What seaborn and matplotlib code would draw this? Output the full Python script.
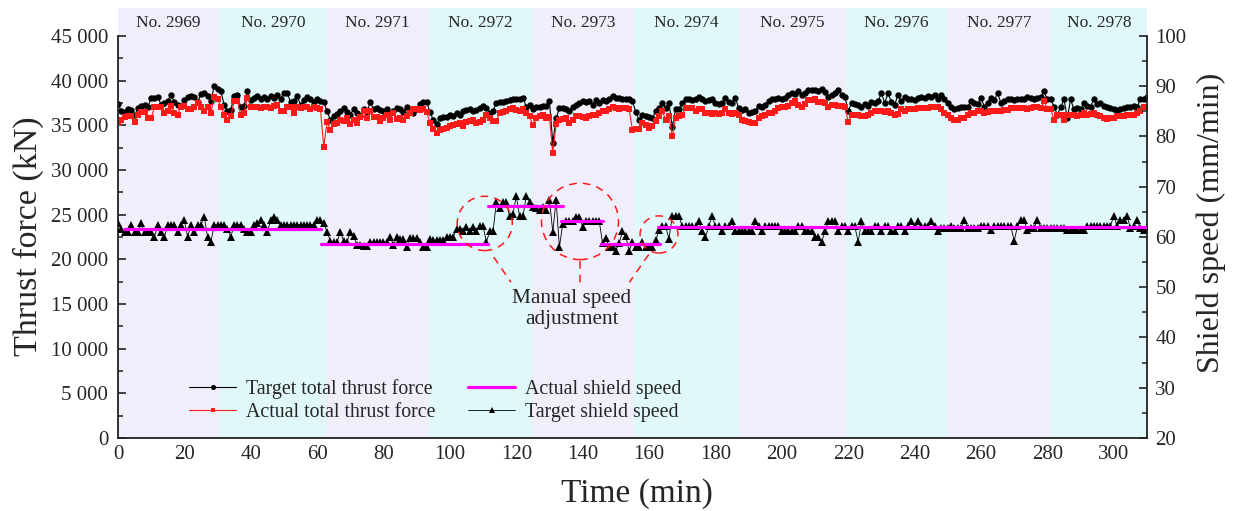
import pandas as pd
import seaborn as sns
import matplotlib.pyplot as plt
import matplotlib.ticker as mtick
from matplotlib.patches import Ellipse

# ring numbers and where each ring starts / ends (min)
RING_NAMES = ["No. 2969", "No. 2970", "No. 2971", "No. 2972", "No. 2973",
              "No. 2974", "No. 2975", "No. 2976", "No. 2977", "No. 2978"]
RING_EDGES = [0, 30.6, 62.7, 93.7, 124.8, 155.6, 187.0, 219.3, 249.8, 281.0, 310.0]

TIME_MIN = list(range(0, 311))

# thrust force, in 1000 kN
TARGET_THRUST = [
    37.4, 36.6, 36.5, 36.8, 36.7, 36.1, 36.9, 37.2, 37.3, 37.0,
    38.1, 38.1, 38.2, 37.3, 37.5, 37.7, 38.4, 37.6, 37.3, 37.2,
    37.8, 38.2, 38.3, 38.2, 37.6, 38.5, 38.6, 38.3, 37.7, 39.4,
    39.1, 38.8, 37.3, 36.6, 36.7, 38.3, 38.4, 37.0, 37.2, 38.8,
    37.8, 38.1, 38.3, 38.0, 38.2, 37.9, 38.3, 38.1, 38.4, 38.0,
    38.6, 38.6, 37.6, 37.7, 38.3, 37.3, 37.8, 38.2, 37.9, 37.6,
    38.0, 37.7, 37.6, 36.6, 35.6, 36.0, 36.3, 36.6, 36.9, 36.5,
    36.2, 36.8, 36.4, 36.0, 36.8, 36.5, 37.6, 36.8, 36.9, 36.7,
    36.6, 36.8, 36.4, 36.6, 36.9, 36.8, 36.5, 37.1, 36.6, 36.4,
    36.8, 37.4, 37.6, 37.6, 36.5, 35.6, 35.2, 35.8, 35.9, 35.9,
    36.1, 36.0, 36.4, 36.2, 36.6, 36.7, 36.8, 36.6, 36.7, 36.9,
    37.2, 36.9, 36.4, 36.6, 37.5, 37.6, 37.6, 37.7, 37.8, 37.9,
    37.9, 38.0, 38.1, 37.1, 37.3, 36.8, 37.1, 37.0, 37.2, 37.2,
    37.7, 33.0, 35.8, 36.9, 36.9, 36.8, 36.6, 37.1, 37.3, 37.5,
    37.7, 37.6, 37.7, 37.3, 37.8, 37.5, 37.8, 37.7, 37.9, 38.3,
    38.1, 38.1, 38.0, 37.9, 38.0, 37.7, 36.5, 35.6, 36.2, 36.0,
    35.9, 35.8, 36.6, 36.9, 37.5, 36.9, 37.5, 34.8, 36.8, 36.8,
    37.5, 37.9, 37.9, 37.8, 37.9, 38.2, 37.9, 37.7, 37.8, 38.0,
    37.5, 37.4, 37.5, 38.1, 37.6, 37.5, 38.1, 36.9, 36.7, 36.8,
    36.4, 36.5, 36.6, 37.2, 37.1, 37.3, 37.7, 37.9, 37.9, 38.1,
    38.0, 38.1, 38.4, 38.6, 38.5, 38.8, 38.4, 38.6, 38.9, 39.0,
    39.0, 38.8, 39.1, 38.7, 38.2, 38.4, 38.6, 39.0, 38.4, 38.2,
    36.6, 37.5, 37.4, 37.3, 37.1, 37.4, 37.2, 37.6, 37.5, 37.7,
    38.6, 37.5, 38.6, 37.6, 37.3, 38.4, 37.7, 38.2, 37.9, 37.9,
    37.8, 38.1, 38.2, 38.1, 38.3, 38.2, 38.4, 38.0, 38.4, 37.9,
    37.5, 37.1, 36.8, 36.9, 37.1, 37.0, 37.1, 37.7, 37.5, 37.4,
    38.1, 37.1, 37.5, 38.1, 37.8, 38.6, 37.5, 37.7, 37.9, 37.9,
    37.8, 37.9, 37.9, 38.0, 38.2, 38.1, 38.0, 38.1, 38.2, 38.8,
    37.9, 37.9, 37.1, 36.2, 37.0, 37.9, 35.8, 37.9, 36.8, 36.9,
    36.8, 37.5, 37.2, 37.1, 37.9, 37.4, 37.5, 37.2, 37.0, 36.9,
    36.8, 36.7, 36.8, 36.9, 37.0, 37.1, 37.2, 37.0, 37.9, 38.0, 38.2,
]

ACTUAL_THRUST = [
    35.3, 35.6, 35.9, 36.0, 36.0, 35.4, 36.2, 36.5, 36.5, 35.8,
    35.8, 37.0, 37.1, 37.1, 36.4, 36.6, 37.2, 36.4, 36.2, 37.1,
    37.2, 36.8, 36.8, 37.1, 37.5, 37.1, 36.6, 37.0, 36.4, 38.2,
    37.9, 37.1, 36.2, 35.6, 36.0, 37.7, 37.7, 36.2, 36.4, 38.1,
    37.1, 37.0, 37.0, 36.9, 37.1, 37.0, 36.9, 37.2, 37.3, 36.6,
    36.6, 37.1, 37.0, 36.4, 37.0, 36.9, 37.1, 37.0, 36.8, 37.0,
    36.9, 36.8, 32.6, 35.4, 34.5, 35.1, 35.3, 35.6, 35.5, 35.8,
    35.1, 35.6, 35.3, 35.9, 36.6, 35.8, 36.6, 35.9, 35.9, 35.5,
    35.8, 36.2, 35.6, 36.4, 35.7, 35.8, 35.6, 36.0, 36.4, 36.8,
    36.8, 36.7, 36.8, 36.5, 35.3, 34.6, 34.1, 34.5, 34.6, 34.7,
    34.9, 35.0, 35.2, 35.3, 34.9, 35.4, 35.5, 35.6, 35.3, 35.4,
    35.6, 36.2, 35.8, 35.5, 35.5, 36.4, 36.5, 36.6, 36.8, 36.9,
    36.7, 36.6, 36.8, 36.4, 36.0, 35.0, 35.8, 36.0, 36.2, 35.8,
    35.9, 31.9, 35.1, 35.6, 35.7, 35.8, 35.3, 35.6, 36.0, 36.0,
    35.9, 35.8, 36.0, 36.2, 36.2, 36.4, 36.6, 36.6, 36.8, 37.1,
    36.9, 36.8, 36.9, 36.9, 36.8, 34.5, 34.6, 34.6, 35.3, 35.0,
    34.7, 34.9, 35.5, 36.0, 36.6, 35.6, 36.0, 33.8, 35.8, 36.0,
    36.2, 36.9, 36.9, 36.9, 36.6, 36.8, 36.8, 36.4, 36.4, 36.3,
    36.4, 36.3, 36.4, 36.8, 36.4, 36.3, 36.4, 36.2, 35.6, 35.5,
    35.4, 35.3, 35.3, 35.8, 36.0, 36.2, 36.4, 36.4, 36.6, 36.9,
    37.0, 37.1, 37.2, 37.5, 37.7, 37.3, 37.1, 37.4, 37.8, 37.8,
    37.9, 37.6, 37.6, 37.5, 37.1, 37.3, 37.3, 37.2, 37.2, 37.1,
    35.4, 36.2, 36.2, 36.2, 36.0, 36.0, 36.1, 36.4, 36.6, 36.6,
    36.6, 36.5, 36.6, 36.4, 36.2, 36.3, 36.8, 36.6, 36.8, 36.8,
    36.8, 36.9, 36.9, 36.9, 36.9, 37.0, 37.1, 37.0, 36.8, 36.4,
    36.2, 35.8, 35.6, 35.6, 35.8, 35.8, 36.2, 36.4, 36.4, 36.6,
    36.6, 36.4, 36.5, 36.6, 36.6, 36.6, 36.6, 36.7, 36.7, 36.9,
    36.9, 36.9, 36.9, 36.9, 36.8, 36.9, 37.1, 37.0, 36.9, 37.7,
    36.8, 36.8, 35.6, 36.2, 36.1, 35.6, 36.2, 36.2, 36.2, 36.0,
    36.2, 36.4, 36.2, 36.3, 36.4, 36.2, 36.0, 35.8, 35.7, 35.8,
    35.8, 36.0, 36.0, 36.0, 36.2, 36.2, 36.2, 36.4, 36.6, 37.0, 37.1,
]

# target shield speed (mm/min)
TARGET_SPEED = [
    62.7, 61.6, 61.0, 61.0, 62.4, 61.0, 61.0, 62.7, 61.0, 61.0,
    61.0, 60.0, 62.4, 61.0, 60.0, 62.4, 62.4, 62.4, 61.0, 62.4,
    63.3, 60.0, 62.4, 61.0, 62.4, 62.4, 64.0, 60.0, 59.0, 62.4,
    62.4, 62.4, 62.4, 61.6, 60.0, 62.4, 62.4, 62.4, 61.6, 61.0,
    61.0, 62.4, 62.7, 63.3, 62.4, 61.0, 63.3, 64.0, 63.3, 62.4,
    62.4, 62.4, 62.4, 62.4, 62.4, 62.4, 62.4, 62.4, 62.4, 62.4,
    63.3, 63.3, 62.7, 61.0, 59.2, 59.0, 59.0, 61.0, 59.2, 59.0,
    61.0, 60.2, 58.4, 58.4, 58.2, 58.2, 59.0, 59.0, 59.0, 59.0,
    59.0, 59.0, 60.0, 58.4, 60.0, 59.5, 59.5, 58.0, 59.8, 59.8,
    59.8, 59.0, 58.0, 58.0, 59.6, 59.3, 59.3, 59.3, 59.3, 60.0,
    60.0, 60.0, 61.6, 61.6, 61.2, 62.0, 61.2, 62.0, 61.2, 62.1,
    62.1, 59.0, 61.1, 61.1, 66.9, 65.8, 66.9, 66.9, 64.1, 64.6,
    68.1, 64.1, 64.1, 68.1, 67.0, 66.0, 65.8, 65.3, 66.0, 65.3,
    67.3, 61.0, 67.3, 58.0, 62.6, 63.1, 63.1, 63.1, 63.9, 63.9,
    62.0, 63.1, 63.1, 63.1, 63.1, 63.1, 58.8, 59.8, 58.0, 58.0,
    57.3, 58.8, 61.1, 60.2, 57.2, 59.0, 58.1, 58.1, 59.0, 58.1,
    58.0, 58.0, 59.3, 61.3, 62.1, 62.1, 59.6, 64.2, 64.2, 64.2,
    62.1, 62.1, 62.1, 62.1, 62.1, 63.1, 61.1, 60.0, 62.1, 64.2,
    62.1, 62.1, 61.1, 62.1, 62.1, 63.1, 61.1, 61.1, 61.1, 61.1,
    61.1, 61.1, 63.1, 62.1, 61.1, 62.1, 62.1, 62.1, 62.1, 62.1,
    61.1, 61.1, 61.1, 61.1, 61.1, 62.1, 62.1, 61.1, 61.1, 61.1,
    60.0, 60.0, 59.0, 61.1, 63.1, 63.1, 63.1, 61.1, 62.1, 62.1,
    61.1, 62.1, 62.1, 59.0, 63.1, 61.1, 61.1, 61.1, 62.1, 62.1,
    61.1, 62.1, 62.1, 61.1, 61.1, 62.1, 62.1, 61.1, 62.1, 63.1,
    62.1, 63.1, 62.1, 62.1, 62.1, 63.1, 62.1, 61.1, 61.8, 61.8,
    61.8, 62.1, 61.8, 61.8, 61.8, 63.3, 61.8, 61.8, 61.8, 61.8,
    62.1, 62.1, 62.1, 61.3, 62.1, 62.1, 62.1, 62.1, 62.1, 62.1,
    59.2, 62.1, 63.3, 63.3, 61.3, 61.8, 61.8, 63.3, 61.8, 61.8,
    61.8, 61.8, 61.8, 61.8, 61.8, 61.8, 61.3, 61.3, 61.3, 61.3,
    61.3, 61.3, 62.1, 62.1, 62.1, 62.1, 62.1, 62.1, 62.1, 62.1,
    64.2, 62.1, 63.3, 63.3, 64.2, 61.8, 62.1, 63.3, 61.8, 61.3, 61.8,
]

# actual shield speed is a set of flat steps (start, end, value)
ACT_SPEED_START = [1.8, 61.2, 111.4, 133.5, 145.5, 162.6]
ACT_SPEED_END = [61.2, 111.4, 134.0, 146.0, 163.2, 310.0]
ACT_SPEED_VALUE = [61.6, 58.6, 66.2, 63.1, 58.6, 62.0]

# circles marking the manual adjustments: (centre t, centre v, radius t, radius v)
CIRCLES = [(110.5, 62.7, 8.3, 5.4), (139.2, 63.1, 11.6, 7.6), (163.0, 60.5, 5.7, 3.7)]
POINTER_LINES = [((113.2, 118.4), (56.0, 51.0)),
                 ((139.2, 139.2), (55.3, 50.1)),
                 ((159.9, 154.1), (56.5, 51.0))]

LAVENDER = "#efeefa"
CYAN = "#e0f8f9"
MAGENTA = "#ff00ff"
RED = "#ff1a1a"

sns.set_style("white")
plt.rcParams["font.family"] = ["Liberation Serif", "DejaVu Serif"]

fig = plt.figure(figsize=(12.39, 5.11), dpi=100)
ax = fig.add_axes([0.0952, 0.1429, 0.8305, 0.8409])
ax2 = ax.twinx()

# ring background bands
for i, name in enumerate(RING_NAMES):
    ax.axvspan(RING_EDGES[i], RING_EDGES[i + 1],
               color=LAVENDER if i % 2 == 0 else CYAN, lw=0, zorder=0)
    ax.text((RING_EDGES[i] + RING_EDGES[i + 1]) / 2, 0.966, name,
            transform=ax.get_xaxis_transform(), ha="center", va="center",
            fontsize=12.5)

thrust = pd.DataFrame({"t": TIME_MIN,
                       "target": [v * 1000 for v in TARGET_THRUST],
                       "actual": [v * 1000 for v in ACTUAL_THRUST]})

sns.lineplot(data=thrust, x="t", y="target", ax=ax, color="black", lw=0.8,
             marker="o", markersize=4.6, markeredgewidth=0,
             label="Target total thrust force", legend=False)
sns.lineplot(data=thrust, x="t", y="actual", ax=ax, color=RED, lw=0.8,
             marker="s", markersize=4.0, markeredgewidth=0,
             label="Actual total thrust force", legend=False)

sns.lineplot(x=TIME_MIN, y=TARGET_SPEED, ax=ax2, color="black", lw=0.6,
             marker="^", markersize=5.6, markeredgewidth=0,
             label="Target shield speed", legend=False, zorder=2)

steps = pd.DataFrame({
    "t": ACT_SPEED_START + ACT_SPEED_END,
    "v": ACT_SPEED_VALUE + ACT_SPEED_VALUE,
    "seg": list(range(len(ACT_SPEED_START))) * 2,
})
sns.lineplot(data=steps, x="t", y="v", units="seg", estimator=None, ax=ax2,
             color=MAGENTA, lw=2.3, label="Actual shield speed",
             legend=False, zorder=3)

# manual speed adjustment annotation
for ct, cv, rt, rv in CIRCLES:
    ax2.add_patch(Ellipse((ct, cv), 2 * rt, 2 * rv, fill=False,
                          ec=RED, lw=1.1, ls=(0, (5, 4)), zorder=4))
for xs, ys in POINTER_LINES:
    ax2.plot(xs, ys, color=RED, lw=1.1, ls=(0, (5, 4)), zorder=4)
ax2.text(136.8, 45.6, "Manual speed\nadjustment", ha="center", va="center",
         fontsize=15.3, linespacing=1.15)

# axes, ticks and spines
ax.set_xlim(0, 310)
ax.set_ylim(0, 48100)
ax2.set_ylim(20, 20 + 48100 * 80 / 45000)

ax.xaxis.set_major_locator(mtick.MultipleLocator(20))
ax.xaxis.set_minor_locator(mtick.MultipleLocator(10))
ax.set_yticks(range(0, 45001, 5000))
ax.yaxis.set_minor_locator(mtick.FixedLocator(range(2500, 45000, 5000)))
ax.yaxis.set_major_formatter(mtick.FuncFormatter(
    lambda v, p: f"{int(v):,}".replace(",", " ")))
ax2.set_yticks(range(20, 101, 10))
ax2.yaxis.set_minor_locator(mtick.FixedLocator(range(25, 100, 10)))

for a in (ax, ax2):
    a.tick_params(which="major", direction="in", length=6, width=1.2,
                  labelsize=15, color="#222222")
    a.tick_params(which="minor", direction="in", length=3.5, width=1.1,
                  color="#222222")
    for s in a.spines.values():
        s.set_linewidth(1.3)
        s.set_color("#222222")
ax.tick_params(axis="x", pad=5)
ax.tick_params(axis="y", pad=7)
ax2.tick_params(axis="y", pad=6)

ax.spines["top"].set_visible(False)
ax.spines["right"].set_visible(False)
ax.spines["left"].set_bounds(0, 45000)
ax2.spines["top"].set_visible(False)
ax2.spines["left"].set_visible(False)
ax2.spines["bottom"].set_visible(False)
ax2.spines["right"].set_bounds(20, 100)

ax.set_xlabel("Time (min)", fontsize=24, labelpad=10)
ax.set_ylabel("Thrust force (kN)", fontsize=24.5, labelpad=5)
ax2.set_ylabel("Shield speed (mm/min)", fontsize=23, labelpad=7)
ax.xaxis.label.set_x(0.504)
ax.yaxis.label.set_y(0.47)

h1, l1 = ax.get_legend_handles_labels()
h2, l2 = ax2.get_legend_handles_labels()
hd = dict(zip(l1 + l2, h1 + h2))
order = ["Target total thrust force", "Actual total thrust force",
         "Actual shield speed", "Target shield speed"]
ax2.legend([hd[k] for k in order], order, ncol=2, frameon=False,
           loc="lower left", bbox_to_anchor=(0.052, -0.004), fontsize=14.3,
           handlelength=2.35, handletextpad=0.5, columnspacing=1.65,
           labelspacing=0.17, markerscale=0.8)

plt.savefig("out.png", dpi=100)
